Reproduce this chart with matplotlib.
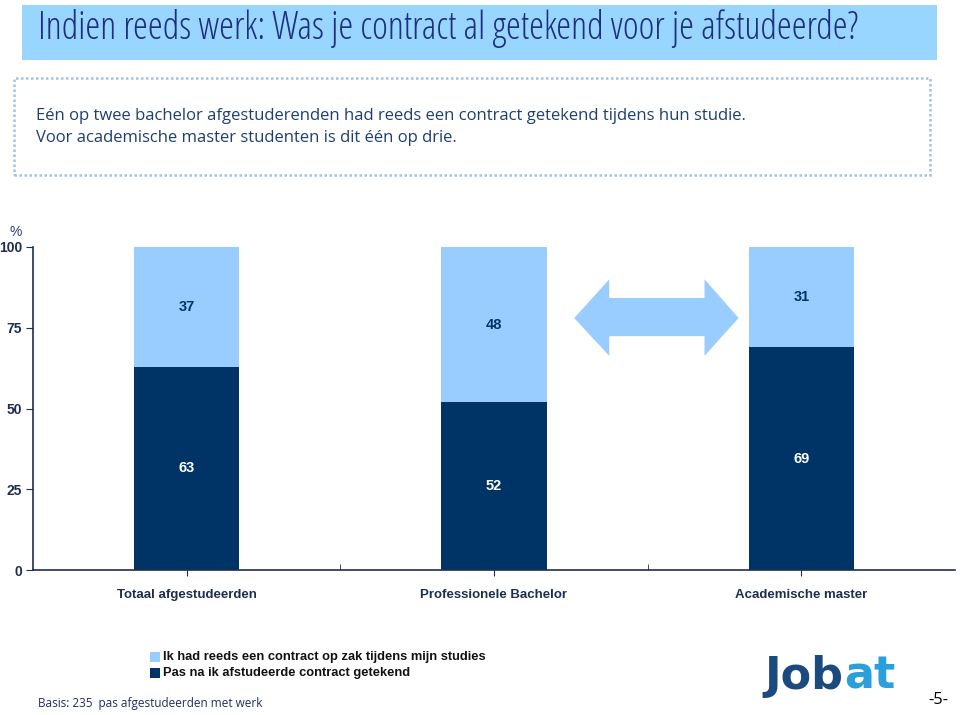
import matplotlib
matplotlib.use("Agg")
import matplotlib.pyplot as plt
from matplotlib.patches import Rectangle, Polygon
import numpy as np

categories = ["Totaal afgestudeerden", "Professionele Bachelor", "Academische master"]
after_grad = [63, 52, 69]      # Pas na ik afstudeerde contract getekend
during_study = [37, 48, 31]    # Ik had reeds een contract op zak tijdens mijn studies
series_names = ["Ik had reeds een contract op zak tijdens mijn studies",
                "Pas na ik afstudeerde contract getekend"]
yticks = [0, 25, 50, 75, 100]

DARK = "#003366"
LIGHT = "#99CCFF"
TXT = "#1F2D4F"

fig = plt.figure(figsize=(9.6, 7.15), dpi=100)
W, H = 960, 715

def fx(px):
    return px / W

def fy(py):
    return 1 - py / H

# Title band
fig.patches.append(Rectangle((fx(22), fy(60)), fx(937) - fx(22), fy(5) - fy(60),
                             transform=fig.transFigure, facecolor="#99D6FF", edgecolor="none"))
fig.text(fx(38), fy(28), "Indien reeds werk: Was je contract al getekend voor je afstudeerde?",
         fontsize=27.3, family="Open Sans", color="#1F2F80", va="center", ha="left",
         fontstretch="condensed")

# Dotted box
fig.patches.append(Rectangle((fx(14), fy(175)), fx(930) - fx(14), fy(78) - fy(175),
                             transform=fig.transFigure, facecolor="none",
                             edgecolor="#9DC3E6", linestyle=(0, (1, 1)), linewidth=1.8))
fig.text(fx(36), fy(116), "Eén op twee bachelor afgestuderenden had reeds een contract getekend tijdens hun studie.",
         fontsize=12, family="Open Sans", color="#1F3F70", va="center", ha="left")
fig.text(fx(36), fy(138), "Voor academische master studenten is dit één op drie.",
         fontsize=12, family="Open Sans", color="#1F3F70", va="center", ha="left")

# Axes
ax = fig.add_axes([fx(33), fy(570), fx(955) - fx(33), fy(247) - fy(570)])
x = np.arange(len(categories))
bw = 0.343
ax.bar(x, after_grad, width=bw, color=DARK, label=series_names[1])
ax.bar(x, during_study, width=bw, bottom=after_grad, color=LIGHT, label=series_names[0])

for i in range(len(categories)):
    ax.text(x[i], after_grad[i] / 2, str(after_grad[i]), ha="center", va="center",
            color="white", fontsize=10.5, fontweight="bold", family="Liberation Sans")
    ax.text(x[i], after_grad[i] + during_study[i] / 2, str(during_study[i]), ha="center",
            va="center", color=DARK, fontsize=10.5, fontweight="bold", family="Liberation Sans")

ax.set_xlim(-0.5, 2.5)
ax.set_ylim(0, 100)
ax.set_yticks(yticks)
ax.set_yticklabels([str(v) for v in yticks])
ax.set_xticks(x)
ax.set_xticklabels(categories)
ax.set_xticks([0.5, 1.5], minor=True)
ax.tick_params(axis="x", which="major", direction="out", length=4, color=TXT, pad=10,
               labelsize=9.5, labelcolor=TXT)
ax.tick_params(axis="x", which="minor", direction="in", length=4, color=TXT)
ax.tick_params(axis="y", direction="out", length=5, color=TXT, labelsize=10, labelcolor=TXT, pad=3)
for lab in ax.get_xticklabels() + ax.get_yticklabels():
    lab.set_fontweight("bold")
    lab.set_family("Liberation Sans")
for s in ["top", "right"]:
    ax.spines[s].set_visible(False)
for s in ["left", "bottom"]:
    ax.spines[s].set_color(TXT)
    ax.spines[s].set_linewidth(1.2)

fig.text(fx(9), fy(232), "%", fontsize=10, color="#2F3A80", ha="left", va="center",
         family="Liberation Sans")

# Double-headed arrow (decoration)
arrow = Polygon([(1.261, 78), (1.375, 90), (1.375, 84.2), (1.685, 84.2), (1.685, 90),
                 (1.796, 78), (1.685, 66.3), (1.685, 72.4), (1.375, 72.4), (1.375, 66.3)],
                closed=True, facecolor=LIGHT, edgecolor="none", transform=ax.transData)
ax.add_patch(arrow)

# Legend
fig.patches.append(Rectangle((fx(150), fy(662)), fx(10), fy(652) - fy(662), transform=fig.transFigure,
                             facecolor=LIGHT, edgecolor="none"))
fig.patches.append(Rectangle((fx(150), fy(678)), fx(10), fy(668) - fy(678), transform=fig.transFigure,
                             facecolor=DARK, edgecolor="none"))
fig.text(fx(163), fy(657), series_names[0], fontsize=9.3, fontweight="bold", color="#111111",
         family="Liberation Sans", ha="left", va="center")
fig.text(fx(163), fy(673), series_names[1], fontsize=9.3, fontweight="bold", color="#111111",
         family="Liberation Sans", ha="left", va="center")

fig.text(fx(38), fy(703), "Basis: 235  pas afgestudeerden met werk", fontsize=8.5, color="#1F2F60",
         family="Open Sans", ha="left", va="center")

# Logo
t1 = fig.text(fx(764), fy(676), "Job", fontsize=32, fontweight="bold", color="#1B4A7E",
              family="DejaVu Sans", ha="left", va="center")
fig.canvas.draw()
bb = t1.get_window_extent()
fig.text(bb.x1 / W + 0.001, fy(676), "at", fontsize=32, fontweight="bold", color="#2A9FDB",
         family="DejaVu Sans", ha="left", va="center")
fig.text(fx(948), fy(700), "-5-", fontsize=12, color="black", family="Open Sans",
         ha="right", va="center")

fig.savefig("out.png", dpi=100)
